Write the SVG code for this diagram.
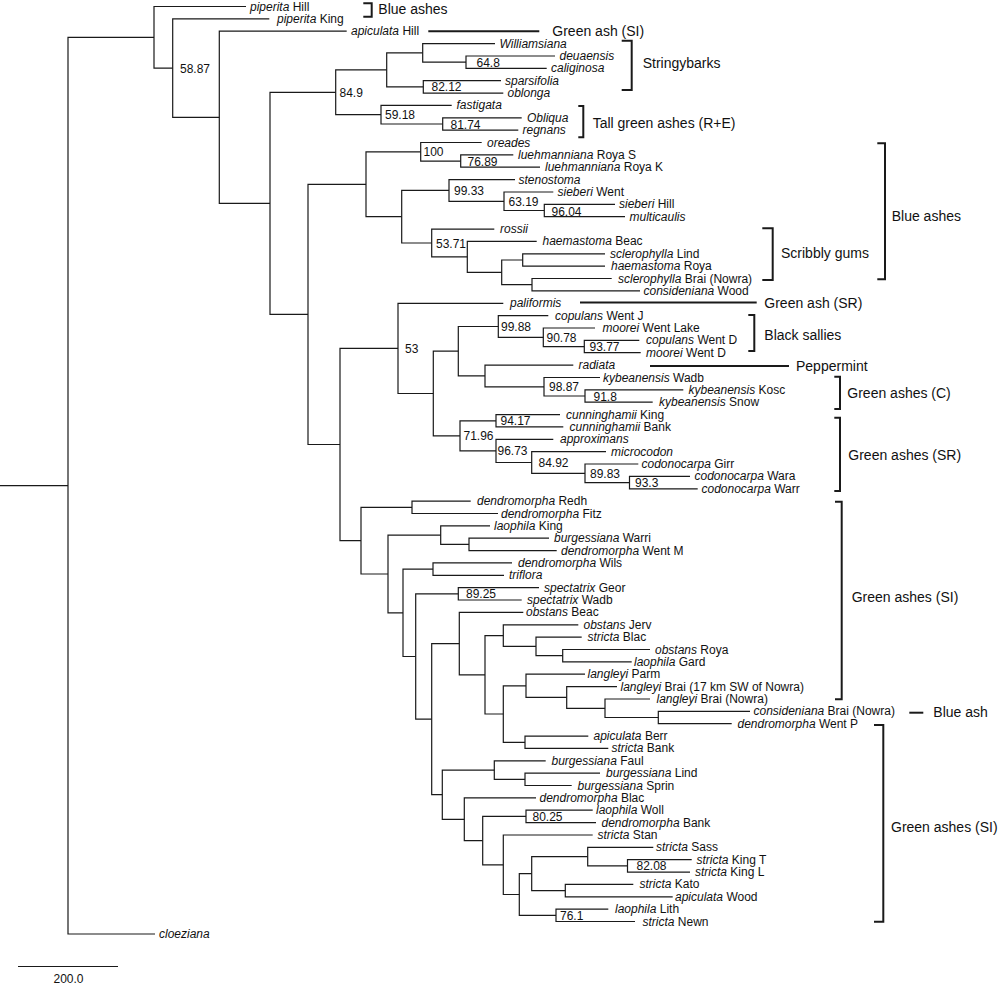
<svg xmlns="http://www.w3.org/2000/svg" width="1000" height="984" viewBox="0 0 1000 984">
<style>
.br{fill:none;stroke:#1a1a1a;stroke-width:1.2}
.bk{fill:none;stroke:#1a1a1a;stroke-width:2}
text{font-family:"Liberation Sans",Arial,Helvetica,sans-serif;fill:#111}
.lf{font-size:12px}
.sp{font-size:12px}
.gl{font-size:14px}
.i{font-style:italic}
</style>
<rect width="1000" height="984" fill="#fff"/>
<g id="branches" class="br">
<path d="M0 485.7 H68"/>
<path d="M154 37.3 H68 V934 H155"/>
<path d="M246 6.5 H154 V68.1 H172.7"/>
<path d="M269.3 18.9 H172.7 V117.3 H219.3"/>
<path d="M346.7 31.2 H219.3 V203.4 H270"/>
<path d="M335.7 92.3 H270 V314.4 H308"/>
<path d="M386.7 69.9 H335.7 V114.7 H381"/>
<path d="M422.7 52.9 H386.7 V86.9 H423.3"/>
<path d="M495 43.6 H422.7 V62.2 H466"/>
<path d="M555 56 H466 V68.3 H546.7"/>
<path d="M501 80.7 H423.3 V93.1 H503.3"/>
<path d="M451.7 105.4 H381 V124 H442.7"/>
<path d="M521.7 117.8 H442.7 V130.2 H518.3"/>
<path d="M366 184.3 H308 V444.5 H340"/>
<path d="M420.7 151.8 H366 V216.7 H401.7"/>
<path d="M481.7 142.5 H420.7 V161.1 H460.7"/>
<path d="M513.3 154.9 H460.7 V167.2 H540"/>
<path d="M449 190.4 H401.7 V243 H431.7"/>
<path d="M515 179.6 H449 V201.3 H504"/>
<path d="M553.3 192 H504 V210.5 H544.3"/>
<path d="M615 204.3 H544.3 V216.7 H625"/>
<path d="M494.3 229.1 H431.7 V256.9 H467.3"/>
<path d="M536.7 241.4 H467.3 V272.4 H501.7"/>
<path d="M522.7 260 H501.7 V284.7 H532"/>
<path d="M605 253.8 H522.7 V266.2 H605"/>
<path d="M611.7 278.5 H532 V290.9 H640"/>
<path d="M398 348.4 H340 V540.6 H361"/>
<path d="M503.3 303.3 H398 V393.5 H433.3"/>
<path d="M458.3 351.2 H433.3 V435.8 H460"/>
<path d="M498.3 326.5 H458.3 V375.9 H485"/>
<path d="M548.3 315.6 H498.3 V337.3 H543.3"/>
<path d="M595 328 H543.3 V346.6 H584.3"/>
<path d="M639.3 340.4 H584.3 V352.7 H640.7"/>
<path d="M573.3 365.1 H485 V386.8 H544"/>
<path d="M600 377.5 H544 V396 H585"/>
<path d="M683.3 389.8 H585 V402.2 H652.7"/>
<path d="M496 420.8 H460 V450.9 H496"/>
<path d="M560 414.6 H496 V426.9 H563.3"/>
<path d="M553.3 439.3 H496 V462.5 H531.7"/>
<path d="M606 451.7 H531.7 V473.3 H585"/>
<path d="M638.3 464 H585 V482.6 H629.5"/>
<path d="M690 476.4 H629.5 V488.8 H697.7"/>
<path d="M412 507.3 H361 V574 H388"/>
<path d="M470.7 501.1 H412 V513.5 H498"/>
<path d="M440.7 535.1 H388 V612.8 H403"/>
<path d="M490 525.8 H440.7 V544.4 H469"/>
<path d="M549 538.2 H469 V550.6 H556.7"/>
<path d="M433 569.1 H403 V656.5 H415.7"/>
<path d="M512 562.9 H433 V575.3 H504"/>
<path d="M458.3 593.9 H415.7 V719.1 H431.7"/>
<path d="M539 587.7 H458.3 V600 H521.7"/>
<path d="M459.3 643.6 H431.7 V794.7 H442.3"/>
<path d="M523.3 612.4 H459.3 V674.8 H485"/>
<path d="M503.3 635.6 H485 V714 H503.3"/>
<path d="M578.3 624.8 H503.3 V646.4 H536"/>
<path d="M581.7 637.1 H536 V655.7 H562.7"/>
<path d="M650 649.5 H562.7 V661.9 H631.7"/>
<path d="M526 685.8 H503.3 V742.3 H525"/>
<path d="M585 674.2 H526 V697.4 H566.7"/>
<path d="M617 686.6 H566.7 V708.3 H605"/>
<path d="M650 699 H605 V717.5 H658.3"/>
<path d="M750 711.3 H658.3 V723.7 H731.7"/>
<path d="M588.3 736.1 H525 V748.4 H608.3"/>
<path d="M494.3 770.1 H442.3 V819.3 H464.3"/>
<path d="M545.7 760.8 H494.3 V779.3 H525"/>
<path d="M600 773.1 H525 V785.5 H571.7"/>
<path d="M536 797.9 H464.3 V840.6 H482.7"/>
<path d="M526 816.4 H482.7 V864.8 H503.3"/>
<path d="M592.7 810.2 H526 V822.6 H596"/>
<path d="M592.7 835 H503.3 V894.5 H519.3"/>
<path d="M531.7 873.6 H519.3 V915.4 H556"/>
<path d="M587.7 856.6 H531.7 V890.6 H565.3"/>
<path d="M653.3 847.3 H587.7 V865.9 H627.5"/>
<path d="M691.7 859.7 H627.5 V872.1 H690"/>
<path d="M633.3 884.4 H565.3 V896.8 H672.7"/>
<path d="M608.3 909.2 H556 V921.5 H635"/>
</g>
<g id="leaves" class="lf">
<g id="leaf-01"><text x="250" y="10.5"><tspan class="i">piperita</tspan> Hill</text></g>
<g id="leaf-02"><text x="277" y="22.9"><tspan class="i">piperita</tspan> King</text></g>
<g id="leaf-03"><text x="351" y="35.2"><tspan class="i">apiculata</tspan> Hill</text></g>
<g id="leaf-04"><text x="499.5" y="47.6" class="i">Williamsiana</text></g>
<g id="leaf-05"><text x="559.5" y="60" class="i">deuaensis</text></g>
<g id="leaf-06"><text x="551" y="72.3" class="i">caliginosa</text></g>
<g id="leaf-07"><text x="505" y="84.7" class="i">sparsifolia</text></g>
<g id="leaf-08"><text x="507.5" y="97.1" class="i">oblonga</text></g>
<g id="leaf-09"><text x="456.5" y="109.4" class="i">fastigata</text></g>
<g id="leaf-10"><text x="527" y="121.8" class="i">Obliqua</text></g>
<g id="leaf-11"><text x="522.5" y="134.2" class="i">regnans</text></g>
<g id="leaf-12"><text x="487" y="146.5" class="i">oreades</text></g>
<g id="leaf-13"><text x="518" y="158.9"><tspan class="i">luehmanniana</tspan> Roya S</text></g>
<g id="leaf-14"><text x="545" y="171.2"><tspan class="i">luehmanniana</tspan> Roya K</text></g>
<g id="leaf-15"><text x="518.5" y="183.6" class="i">stenostoma</text></g>
<g id="leaf-16"><text x="557.5" y="196"><tspan class="i">sieberi</tspan> Went</text></g>
<g id="leaf-17"><text x="619" y="208.3"><tspan class="i">sieberi</tspan> Hill</text></g>
<g id="leaf-18"><text x="629.5" y="220.7" class="i">multicaulis</text></g>
<g id="leaf-19"><text x="500" y="233.1" class="i">rossii</text></g>
<g id="leaf-20"><text x="542.5" y="245.4"><tspan class="i">haemastoma</tspan> Beac</text></g>
<g id="leaf-21"><text x="610" y="257.8"><tspan class="i">sclerophylla</tspan> Lind</text></g>
<g id="leaf-22"><text x="611" y="270.2"><tspan class="i">haemastoma</tspan> Roya</text></g>
<g id="leaf-23"><text x="618" y="282.5"><tspan class="i">sclerophylla</tspan> Brai (Nowra)</text></g>
<g id="leaf-24"><text x="643.5" y="294.9"><tspan class="i">consideniana</tspan> Wood</text></g>
<g id="leaf-25"><text x="510" y="307.3" class="i">paliformis</text></g>
<g id="leaf-26"><text x="555" y="319.6"><tspan class="i">copulans</tspan> Went J</text></g>
<g id="leaf-27"><text x="602.5" y="332"><tspan class="i">moorei</tspan> Went Lake</text></g>
<g id="leaf-28"><text x="646" y="344.4"><tspan class="i">copulans</tspan> Went D</text></g>
<g id="leaf-29"><text x="646" y="356.7"><tspan class="i">moorei</tspan> Went D</text></g>
<g id="leaf-30"><text x="578.5" y="369.1" class="i">radiata</text></g>
<g id="leaf-31"><text x="603" y="381.5"><tspan class="i">kybeanensis</tspan> Wadb</text></g>
<g id="leaf-32"><text x="688.5" y="393.8"><tspan class="i">kybeanensis</tspan> Kosc</text></g>
<g id="leaf-33"><text x="659" y="406.2"><tspan class="i">kybeanensis</tspan> Snow</text></g>
<g id="leaf-34"><text x="566" y="418.6"><tspan class="i">cunninghamii</tspan> King</text></g>
<g id="leaf-35"><text x="569.5" y="430.9"><tspan class="i">cunninghamii</tspan> Bank</text></g>
<g id="leaf-36"><text x="560" y="443.3" class="i">approximans</text></g>
<g id="leaf-37"><text x="611" y="455.7" class="i">microcodon</text></g>
<g id="leaf-38"><text x="641.5" y="468"><tspan class="i">codonocarpa</tspan> Girr</text></g>
<g id="leaf-39"><text x="694.5" y="480.4"><tspan class="i">codonocarpa</tspan> Wara</text></g>
<g id="leaf-40"><text x="701.5" y="492.8"><tspan class="i">codonocarpa</tspan> Warr</text></g>
<g id="leaf-41"><text x="477" y="505.1"><tspan class="i">dendromorpha</tspan> Redh</text></g>
<g id="leaf-42"><text x="501" y="517.5"><tspan class="i">dendromorpha</tspan> Fitz</text></g>
<g id="leaf-43"><text x="494" y="529.8"><tspan class="i">laophila</tspan> King</text></g>
<g id="leaf-44"><text x="554" y="542.2"><tspan class="i">burgessiana</tspan> Warri</text></g>
<g id="leaf-45"><text x="561" y="554.6"><tspan class="i">dendromorpha</tspan> Went M</text></g>
<g id="leaf-46"><text x="518" y="566.9"><tspan class="i">dendromorpha</tspan> Wils</text></g>
<g id="leaf-47"><text x="509" y="579.3" class="i">triflora</text></g>
<g id="leaf-48"><text x="544" y="591.7"><tspan class="i">spectatrix</tspan> Geor</text></g>
<g id="leaf-49"><text x="527" y="604"><tspan class="i">spectatrix</tspan> Wadb</text></g>
<g id="leaf-50"><text x="526" y="616.4"><tspan class="i">obstans</tspan> Beac</text></g>
<g id="leaf-51"><text x="583.5" y="628.8"><tspan class="i">obstans</tspan> Jerv</text></g>
<g id="leaf-52"><text x="587.5" y="641.1"><tspan class="i">stricta</tspan> Blac</text></g>
<g id="leaf-53"><text x="655" y="653.5"><tspan class="i">obstans</tspan> Roya</text></g>
<g id="leaf-54"><text x="634" y="665.9"><tspan class="i">laophila</tspan> Gard</text></g>
<g id="leaf-55"><text x="587.5" y="678.2"><tspan class="i">langleyi</tspan> Parm</text></g>
<g id="leaf-56"><text x="620.5" y="690.6"><tspan class="i">langleyi</tspan> Brai (17 km SW of Nowra)</text></g>
<g id="leaf-57"><text x="656.5" y="703"><tspan class="i">langleyi</tspan> Brai (Nowra)</text></g>
<g id="leaf-58"><text x="753.5" y="715.3"><tspan class="i">consideniana</tspan> Brai (Nowra)</text></g>
<g id="leaf-59"><text x="737.5" y="727.7"><tspan class="i">dendromorpha</tspan> Went P</text></g>
<g id="leaf-60"><text x="593.5" y="740.1"><tspan class="i">apiculata</tspan> Berr</text></g>
<g id="leaf-61"><text x="611.5" y="752.4"><tspan class="i">stricta</tspan> Bank</text></g>
<g id="leaf-62"><text x="551.5" y="764.8"><tspan class="i">burgessiana</tspan> Faul</text></g>
<g id="leaf-63"><text x="606" y="777.1"><tspan class="i">burgessiana</tspan> Lind</text></g>
<g id="leaf-64"><text x="577.5" y="789.5"><tspan class="i">burgessiana</tspan> Sprin</text></g>
<g id="leaf-65"><text x="539.5" y="801.9"><tspan class="i">dendromorpha</tspan> Blac</text></g>
<g id="leaf-66"><text x="596" y="814.2"><tspan class="i">laophila</tspan> Woll</text></g>
<g id="leaf-67"><text x="601.5" y="826.6"><tspan class="i">dendromorpha</tspan> Bank</text></g>
<g id="leaf-68"><text x="597.5" y="839"><tspan class="i">stricta</tspan> Stan</text></g>
<g id="leaf-69"><text x="656" y="851.3"><tspan class="i">stricta</tspan> Sass</text></g>
<g id="leaf-70"><text x="696.5" y="863.7"><tspan class="i">stricta</tspan> King T</text></g>
<g id="leaf-71"><text x="695" y="876.1"><tspan class="i">stricta</tspan> King L</text></g>
<g id="leaf-72"><text x="639.5" y="888.4"><tspan class="i">stricta</tspan> Kato</text></g>
<g id="leaf-73"><text x="675" y="900.8"><tspan class="i">apiculata</tspan> Wood</text></g>
<g id="leaf-74"><text x="615" y="913.2"><tspan class="i">laophila</tspan> Lith</text></g>
<g id="leaf-75"><text x="642.5" y="925.5"><tspan class="i">stricta</tspan> Newn</text></g>
<g id="leaf-76"><text x="159" y="938" class="i">cloeziana</text></g>
</g>
<g id="support" class="sp">
<g id="s-5887"><text x="180" y="72.6">58.87</text></g>
<g id="s-849"><text x="339.5" y="96.8">84.9</text></g>
<g id="s-648"><text x="476.5" y="66.7">64.8</text></g>
<g id="s-8212"><text x="431.5" y="91.4">82.12</text></g>
<g id="s-5918"><text x="385" y="119.2">59.18</text></g>
<g id="s-8174"><text x="450.5" y="128.5">81.74</text></g>
<g id="s-100"><text x="423.5" y="156.3">100</text></g>
<g id="s-7689"><text x="467.5" y="165.6">76.89</text></g>
<g id="s-9933"><text x="454" y="194.9">99.33</text></g>
<g id="s-6319"><text x="508.5" y="205.8">63.19</text></g>
<g id="s-9604"><text x="551.5" y="215.5">96.04</text></g>
<g id="s-5371"><text x="436" y="247.5">53.71</text></g>
<g id="s-53"><text x="405" y="352.9">53</text></g>
<g id="s-9988"><text x="501" y="331">99.88</text></g>
<g id="s-9078"><text x="546.5" y="342">90.78</text></g>
<g id="s-9377"><text x="589.5" y="351.2">93.77</text></g>
<g id="s-9887"><text x="549" y="391.3">98.87</text></g>
<g id="s-918"><text x="593.5" y="400.5">91.8</text></g>
<g id="s-9417"><text x="500.5" y="425.3">94.17</text></g>
<g id="s-7196"><text x="463.5" y="440.3">71.96</text></g>
<g id="s-9673"><text x="497.5" y="455.4">96.73</text></g>
<g id="s-8492"><text x="538.5" y="467">84.92</text></g>
<g id="s-8983"><text x="590" y="477.8">89.83</text></g>
<g id="s-933"><text x="635" y="487.1">93.3</text></g>
<g id="s-8925"><text x="466" y="598.4">89.25</text></g>
<g id="s-8025"><text x="532.5" y="820.9">80.25</text></g>
<g id="s-8208"><text x="636.5" y="870.4">82.08</text></g>
<g id="s-761"><text x="560" y="919.9">76.1</text></g>
</g>
<g id="clades" class="gl">
<g id="clade-blue-ashes-top"><path class="bk" d="M363.3 3.3 H371.7 V16.7 H363.3"/><text x="378.3" y="14">Blue ashes</text></g>
<g id="clade-green-ash-si-top"><path class="bk" d="M428.3 31.2 H539.3"/><text x="552.3" y="36.2">Green ash (SI)</text></g>
<g id="clade-stringybarks"><path class="bk" d="M621.7 40.7 H631.7 V90 H621.7"/><text x="642.7" y="68">Stringybarks</text></g>
<g id="clade-tall-green"><path class="bk" d="M578.3 106 H583.3 V137.3 H578.3"/><text x="592.7" y="128">Tall green ashes (R+E)</text></g>
<g id="clade-blue-ashes"><path class="bk" d="M877.3 143.3 H885 V279.3 H877.3"/><text x="891.7" y="221">Blue ashes</text></g>
<g id="clade-scribbly"><path class="bk" d="M762.3 228.3 H772.7 V280 H762.3"/><text x="781" y="258">Scribbly gums</text></g>
<g id="clade-green-ash-sr"><path class="bk" d="M580 302.5 H756.7"/><text x="764.3" y="307.5">Green ash (SR)</text></g>
<g id="clade-black-sallies"><path class="bk" d="M748.3 315 H754.3 V351 H748.3"/><text x="764.3" y="340">Black sallies</text></g>
<g id="clade-peppermint"><path class="bk" d="M650 366 H789"/><text x="796" y="371">Peppermint</text></g>
<g id="clade-green-ashes-c"><path class="bk" d="M834.3 376.7 H840 V409 H834.3"/><text x="847.3" y="397.7">Green ashes (C)</text></g>
<g id="clade-green-ashes-sr"><path class="bk" d="M834.3 417.7 H840 V491 H834.3"/><text x="848.3" y="460">Green ashes (SR)</text></g>
<g id="clade-green-ashes-si-1"><path class="bk" d="M835 501.7 H841.7 V699.3 H835"/><text x="851.7" y="601.7">Green ashes (SI)</text></g>
<g id="clade-blue-ash"><path class="bk" d="M909.3 712.7 H923.3"/><text x="933.3" y="717">Blue ash</text></g>
<g id="clade-green-ashes-si-2"><path class="bk" d="M874 725 H883.3 V921.7 H874"/><text x="891" y="832">Green ashes (SI)</text></g>
</g>
<g id="scale-bar">
<path class="br" d="M18 966.5 H118"/>
<text x="68.5" y="983" class="sp" text-anchor="middle">200.0</text>
</g>
</svg>
